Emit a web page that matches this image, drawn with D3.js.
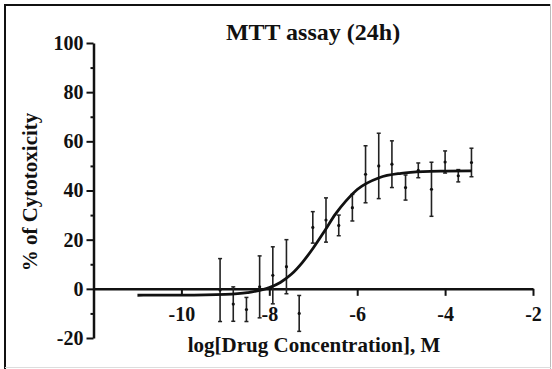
<!DOCTYPE html>
<html>
<head>
<meta charset="utf-8">
<script src="https://cdn.jsdelivr.net/npm/d3@7"></script>
<style>
  body { margin: 0; background: #fff; }
  svg text { font-family: "Liberation Serif", "Times New Roman", serif; font-weight: bold; fill: #111; }
</style>
</head>
<body>
<div id="chart"></div>
<script>
// log dose (M) and mean % cytotoxicity with SD
const logDose = [-9.12, -8.82, -8.52, -8.22, -7.92, -7.61, -7.32, -7.01, -6.71, -6.42,
                 -6.11, -5.81, -5.51, -5.21, -4.90, -4.61, -4.31, -4.00, -3.70, -3.40];
const meanTox = [-0.5, -6.2, -8.4, 0.8, 5.5, 9.0, -10.0, 25.0, 28.0, 25.8,
                 33.0, 46.6, 50.0, 50.7, 41.2, 48.2, 40.5, 51.6, 46.0, 51.4];
const sdTox   = [12.8, 7.0, 4.9, 12.6, 11.6, 11.0, 7.3, 6.4, 9.0, 4.2,
                 5.4, 11.6, 13.3, 9.5, 5.1, 3.0, 11.0, 4.5, 2.5, 5.8];

// fitted curve
const fitX = [-11, -10, -9, -8.5, -8, -7.75, -7.5, -7.25, -7, -6.75, -6.5, -6.25, -6, -5.5, -5, -4.5, -4, -3.4];
const fitY = [-2.6, -2.55, -2.25, -1.55, 0.5, 2.6, 5.9, 10.7, 16.6, 23.3, 30.3, 35.9, 40.4, 45.2, 47.0, 47.7, 47.9, 48.0];

const yMajor = [-20, 0, 20, 40, 60, 80, 100];
const yMinor = [-10, 10, 30, 50, 70, 90];
const xMajor = [-10, -8, -6, -4, -2];

const width = 552, height = 369;
const plain = d => String(d); // keep ascii hyphen like the original

const svg = d3.select('#chart').append('svg')
  .attr('width', width)
  .attr('height', height);

// frame
svg.append('line').attr('x1', 4).attr('x2', 550).attr('y1', 5).attr('y2', 5)
  .attr('stroke', '#111').attr('stroke-width', 2);
svg.append('line').attr('x1', 5).attr('x2', 5).attr('y1', 4).attr('y2', 369)
  .attr('stroke', '#111').attr('stroke-width', 2);
svg.append('line').attr('x1', 550.5).attr('x2', 550.5).attr('y1', 4).attr('y2', 369)
  .attr('stroke', '#bbb').attr('stroke-width', 1);
svg.append('line').attr('x1', 5).attr('x2', 551).attr('y1', 367.5).attr('y2', 367.5)
  .attr('stroke', '#ddd').attr('stroke-width', 1);

const x = d3.scaleLinear().domain([-12, -2]).range([93.5, 533]);
const y = d3.scaleLinear().domain([-20, 100]).range([338, 43]);

// y axis
svg.append('g')
  .attr('transform', `translate(${x(-12)},0)`)
  .call(d3.axisLeft(y).tickValues(yMinor).tickSize(3).tickSizeOuter(0).tickFormat(''))
  .call(g => g.select('.domain').remove())
  .call(g => g.selectAll('line').attr('stroke', '#111').attr('stroke-width', 2));

svg.append('g')
  .attr('transform', `translate(${x(-12)},0)`)
  .call(d3.axisLeft(y).tickValues(yMajor).tickFormat(plain).tickSize(7).tickSizeOuter(0).tickPadding(3))
  .call(g => g.select('.domain').attr('stroke', '#111').attr('stroke-width', 2.5))
  .call(g => g.selectAll('line').attr('stroke', '#111').attr('stroke-width', 2))
  .call(g => g.selectAll('text').attr('font-size', 20));

// x axis at y = 0
svg.append('g')
  .attr('transform', `translate(0,${y(0)})`)
  .call(d3.axisBottom(x).tickValues(xMajor).tickFormat(plain).tickSize(7).tickSizeOuter(0).tickPadding(11))
  .call(g => g.select('.domain').attr('stroke', '#111').attr('stroke-width', 2.5))
  .call(g => g.selectAll('line').attr('stroke', '#111').attr('stroke-width', 2))
  .call(g => g.selectAll('text').attr('font-size', 20));

// error bars
const pts = logDose.map((d, i) => ({ x: d, m: meanTox[i], s: sdTox[i] }));

const bars = svg.append('g').attr('stroke', '#222');
bars.selectAll('.eb').data(pts).join('line')
  .attr('x1', d => x(d.x)).attr('x2', d => x(d.x))
  .attr('y1', d => y(d.m + d.s)).attr('y2', d => y(d.m - d.s))
  .attr('stroke-width', 1.6);
bars.selectAll('.capT').data(pts).join('line')
  .attr('x1', d => x(d.x) - 2).attr('x2', d => x(d.x) + 2)
  .attr('y1', d => y(d.m + d.s)).attr('y2', d => y(d.m + d.s))
  .attr('stroke-width', 1.5);
bars.selectAll('.capB').data(pts).join('line')
  .attr('x1', d => x(d.x) - 2).attr('x2', d => x(d.x) + 2)
  .attr('y1', d => y(d.m - d.s)).attr('y2', d => y(d.m - d.s))
  .attr('stroke-width', 1.5);
svg.append('g').selectAll('circle').data(pts).join('circle')
  .attr('cx', d => x(d.x)).attr('cy', d => y(d.m))
  .attr('r', 1.6).attr('fill', '#111');

// fitted curve
const fit = fitX.map((d, i) => [d, fitY[i]]);
svg.append('path')
  .datum(fit)
  .attr('fill', 'none')
  .attr('stroke', '#111')
  .attr('stroke-width', 2.8)
  .attr('d', d3.line().x(d => x(d[0])).y(d => y(d[1])).curve(d3.curveMonotoneX));

// titles
svg.append('text')
  .attr('x', 313).attr('y', 40)
  .attr('text-anchor', 'middle')
  .attr('font-size', 24)
  .text('MTT assay (24h)');

svg.append('text')
  .attr('x', 314).attr('y', 352)
  .attr('text-anchor', 'middle')
  .attr('font-size', 21)
  .text('log[Drug Concentration], M');

svg.append('text')
  .attr('transform', 'translate(37,192) rotate(-90)')
  .attr('text-anchor', 'middle')
  .attr('font-size', 21)
  .text('% of Cytotoxicity');
</script>
</body>
</html>
